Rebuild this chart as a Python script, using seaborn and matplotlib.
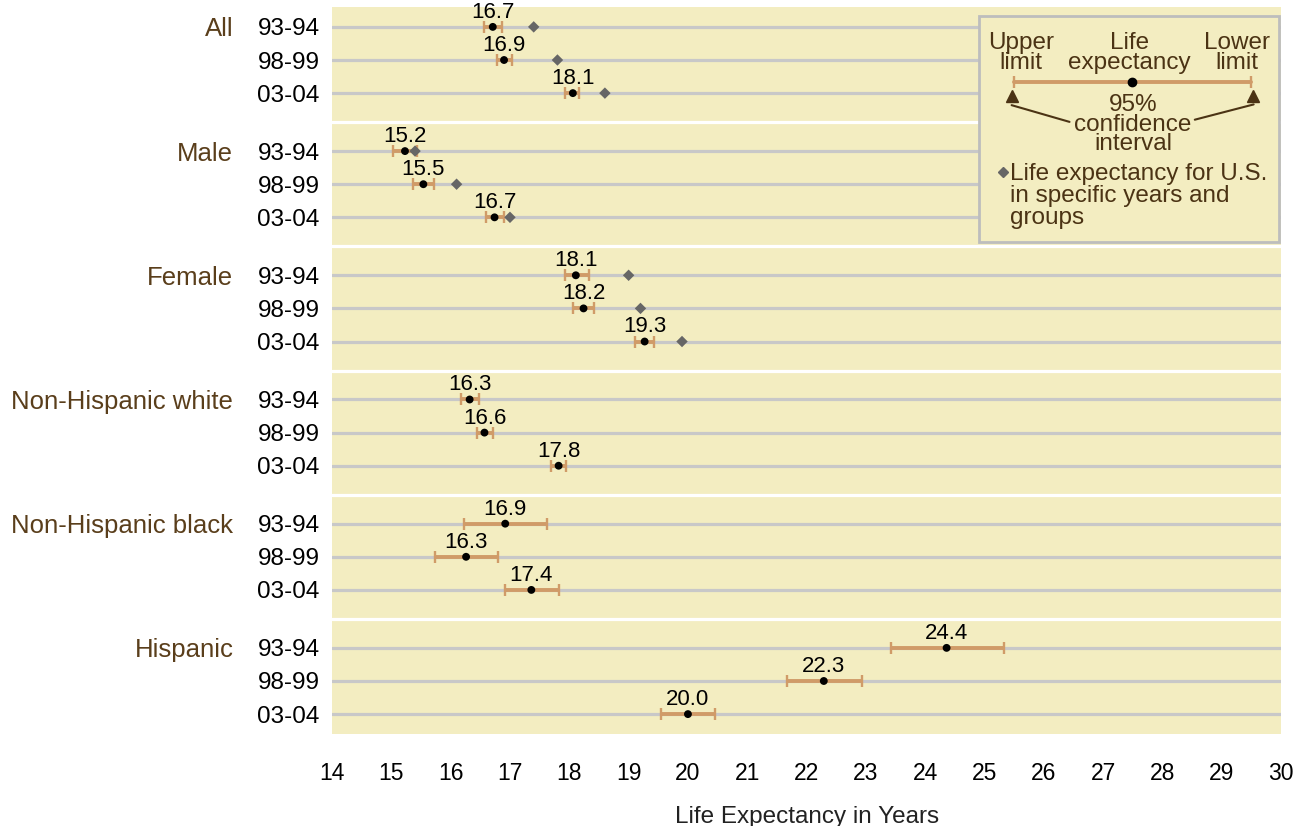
import numpy as np
import pandas as pd
import seaborn as sns
import matplotlib.pyplot as plt
from matplotlib.patches import Rectangle
from matplotlib.transforms import blended_transform_factory

# data
groups = ["All", "Male", "Female", "Non-Hispanic white", "Non-Hispanic black", "Hispanic"]
periods = ["93-94", "98-99", "03-04"]
estimate = [16.71, 16.90, 18.06, 15.23, 15.54, 16.74, 18.11, 18.24, 19.27,
            16.32, 16.57, 17.82, 16.92, 16.26, 17.36, 24.36, 22.29, 20.00]
lower = [16.56, 16.78, 17.93, 15.03, 15.37, 16.59, 17.92, 18.06, 19.11,
         16.17, 16.44, 17.69, 16.23, 15.74, 16.92, 23.42, 21.67, 19.55]
upper = [16.87, 17.04, 18.17, 15.44, 15.72, 16.90, 18.34, 18.42, 19.43,
         16.48, 16.72, 17.95, 17.62, 16.80, 17.82, 25.33, 22.94, 20.46]
us_value = [17.4, 17.8, 18.6, 15.4, 16.1, 17.0, 19.0, 19.2, 19.9,
            np.nan, np.nan, np.nan, np.nan, np.nan, np.nan, np.nan, np.nan, np.nan]

BG = '#F3EDC1'
CI = '#D09B68'
BROWN = '#4B3314'

sns.set_theme(style="white")
plt.rcParams['font.family'] = ['Liberation Sans', 'DejaVu Sans']

gap = 3.75
df = pd.DataFrame({
    'group': np.repeat(groups, 3),
    'period': periods * len(groups),
    'est': estimate, 'lo': lower, 'hi': upper, 'us': us_value,
})
df['pos'] = [g * gap + r for g in range(len(groups)) for r in range(3)]

fig, ax = plt.subplots(figsize=(13.02, 8.26), dpi=100)
fig.subplots_adjust(left=0.255, right=0.984, top=0.9915, bottom=0.1114)
ax.set_facecolor(BG)
for s in ax.spines.values():
    s.set_visible(False)

# row lines and group separators
for p in df['pos']:
    ax.axhline(p, color='#C8C8C8', lw=2.3, zorder=1)
for g in range(1, len(groups)):
    ax.axhline(g * gap - (gap - 2) / 2, color='white', lw=2.3, zorder=1)

ax.errorbar(df['est'], df['pos'], xerr=[df['est'] - df['lo'], df['hi'] - df['est']],
            fmt='none', ecolor=CI, elinewidth=2.8, capsize=4, capthick=1.7, zorder=2)
sns.scatterplot(data=df, x='us', y='pos', marker='D', color='#666666', s=34,
                edgecolor='none', zorder=3, ax=ax)
sns.scatterplot(data=df, x='est', y='pos', color='black', s=32,
                edgecolor='none', zorder=4, ax=ax)

for _, r in df.iterrows():
    ax.annotate(f"{r['est']:.1f}", (r['est'], r['pos']), xytext=(0, 6.5),
                textcoords='offset points', ha='center', va='baseline',
                fontsize=16, color='black', zorder=5)

ax.set_xlim(14, 30)
ax.set_xticks(range(14, 31))
ax.set_ylim(df['pos'].max() + 0.6, -0.6)
ax.set_yticks(df['pos'])
ax.set_yticklabels(df['period'])
ax.tick_params(axis='y', length=0, pad=9, labelsize=17.5, labelcolor='black')
ax.tick_params(axis='x', length=8, width=1, color='#EEE8B8', pad=12, labelsize=16.5,
               labelcolor='black')
ax.set_xlabel('Life Expectancy in Years', fontsize=17.5, labelpad=15, color='#222222')
ax.set_ylabel('')

trans = blended_transform_factory(ax.transAxes, ax.transData)
for g, name in enumerate(groups):
    ax.text(-0.104, g * gap, name, transform=trans, ha='right', va='center_baseline',
            fontsize=18.5, color='#5A3E1B')

# explanatory key box
T = ax.transAxes
ax.add_patch(Rectangle((0.682, 0.677), 0.316, 0.311, transform=T, facecolor=BG,
                       edgecolor='#BDBDBD', lw=2, zorder=6))
kw = dict(transform=T, ha='center', va='center', fontsize=17.5, color=BROWN,
          linespacing=0.85, zorder=7)
ax.text(0.726, 0.937, 'Upper\nlimit', **kw)
ax.text(0.840, 0.937, 'Life\nexpectancy', **kw)
ax.text(0.953, 0.937, 'Lower\nlimit', **kw)
ax.text(0.844, 0.838, '95%\nconfidence\ninterval', **kw)
ax.plot([0.719, 0.968], [0.897, 0.897], transform=T, color=CI, lw=2.8, zorder=7)
ax.plot([0.719, 0.968], [0.897, 0.897], transform=T, ls='none', marker='|',
        ms=8, mew=1.7, color=CI, zorder=7)
ax.plot([0.843], [0.897], transform=T, marker='o', ms=6, color='black', zorder=8)
ax.plot([0.7165, 0.9705], [0.878, 0.878], transform=T, ls='none', marker='^',
        ms=9, color=BROWN, zorder=7)
ax.plot([0.716, 0.777], [0.865, 0.842], transform=T, color=BROWN, lw=1.5, zorder=7)
ax.plot([0.971, 0.909], [0.866, 0.845], transform=T, color=BROWN, lw=1.5, zorder=7)
ax.plot([0.707], [0.773], transform=T, marker='D', ms=5.5, color='#666666', zorder=7)
ax.text(0.714, 0.740, 'Life expectancy for U.S.\nin specific years and\ngroups',
        transform=T, ha='left', va='center', fontsize=17.5, color=BROWN,
        linespacing=1.0, zorder=7)

plt.savefig('out.png', dpi=100)
